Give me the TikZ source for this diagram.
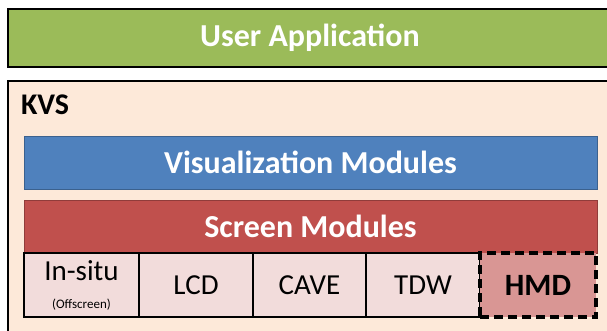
\documentclass[tikz,border=0pt]{standalone}
\usepackage{fontspec}
\setmainfont{Carlito}
\usepackage{tikz}
\definecolor{cApp}{HTML}{9BBB59}
\definecolor{cKvs}{HTML}{FDE9D9}
\definecolor{cVis}{HTML}{4F81BD}
\definecolor{cScr}{HTML}{C0504D}
\definecolor{cCell}{HTML}{F2DCDB}
\definecolor{cHmd}{HTML}{D99694}
\newcommand{\blk}[7]{\pgfmathsetmacro{\blkw}{#3-#2}\pgfmathsetmacro{\blkh}{#5-#4}%
  \node[#6, minimum width=\blkw pt, minimum height=\blkh pt] (#1) at ({(#2+#3)/2},{(#4+#5)/2}) {#7};}

\begin{document}
\begin{tikzpicture}[x=1pt, y=-1pt,
  box/.style={inner sep=0pt, outer sep=0pt, align=center},
  app/.style={box, draw=black, line width=1.6pt, fill=cApp, text=white, font=\fontsize{32}{36}\selectfont\bfseries},
  kvs/.style={box, draw=black, line width=1.6pt, fill=cKvs},
  vis/.style={box, draw=cVis!75!black, line width=0.8pt, fill=cVis, text=white, font=\fontsize{32}{36}\selectfont\bfseries},
  scr/.style={box, draw=cScr!75!black, line width=0.8pt, fill=cScr, text=white, font=\fontsize{32}{36}\selectfont\bfseries},
  cell/.style={box, draw=black, line width=1.3pt, fill=cCell, font=\fontsize{29}{32}\selectfont},
  hmd/.style={box, draw=black, line width=3.5pt, dash pattern=on 9pt off 5pt, fill=cHmd, font=\fontsize{31}{34}\selectfont\bfseries}]
\useasboundingbox (0,0) rectangle (607,331);
\clip (0,0) rectangle (607,331);
% ---- outer layers: application on top, KVS below (both run off the right edge) ----
\blk{app}{8}{620}{9}{67}{app}{\raisebox{-2pt}{\hspace*{-8pt}User Application}}
\blk{kvs}{8}{620}{81}{345}{kvs}{}
\node[box, anchor=west, font=\fontsize{30}{34}\selectfont\bfseries] (kvslabel) at (21,105) {KVS};
% ---- KVS modules ----
\blk{vis}{24}{597}{136}{189}{vis}{Visualization Modules}
\blk{scr}{24}{597}{200}{253}{scr}{Screen Modules}
% ---- screen targets ----
\blk{insitu}{24}{139}{253}{317}{cell}{In-situ\\[-4pt]{\fontsize{13}{14}\selectfont(Offscreen)}}
\blk{lcd}{139}{253}{253}{317}{cell}{LCD}
\blk{cave}{253}{366}{253}{317}{cell}{CAVE}
\blk{tdw}{366}{480}{253}{317}{cell}{TDW}
\blk{hmd}{480}{596}{253}{317}{hmd}{HMD}
\end{tikzpicture}
\end{document}
